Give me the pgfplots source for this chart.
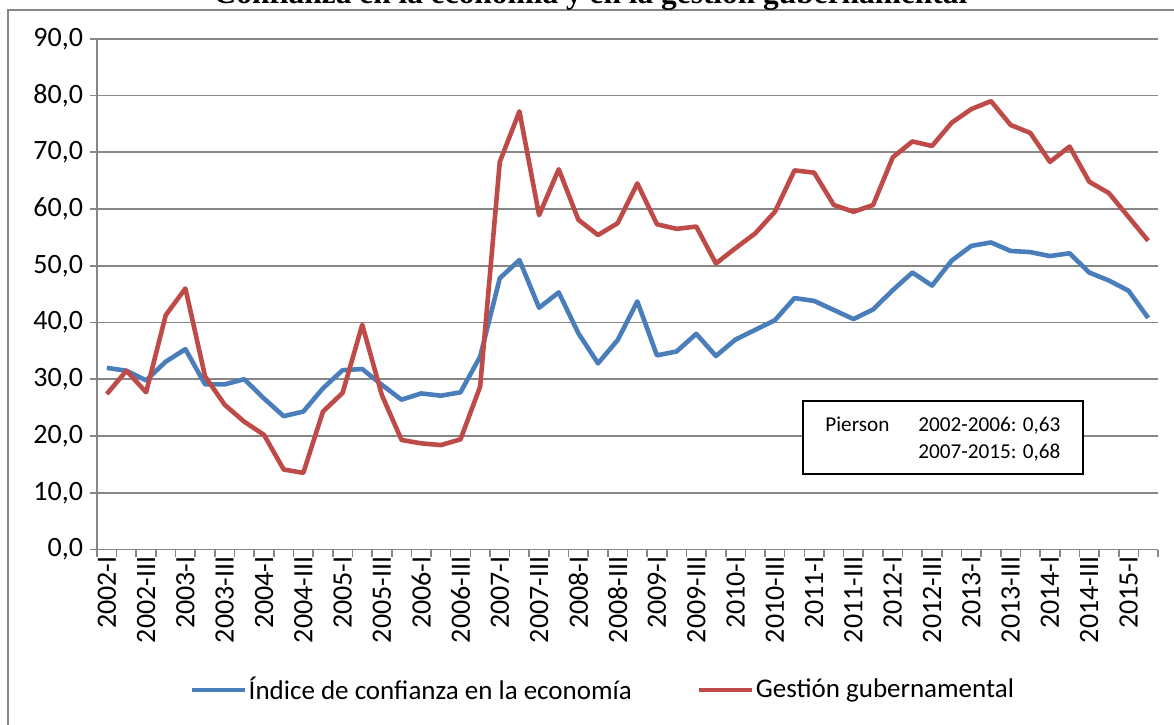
\documentclass[border=0pt]{standalone}
\usepackage{pgfplots}
\pgfplotsset{compat=1.18}
\usepackage{fontspec}
\setmainfont{Carlito}
\newfontfamily\titlefont{Liberation Serif}
\definecolor{serblue}{HTML}{4A7EBB}
\definecolor{serred}{HTML}{BE4B48}
\definecolor{gridgray}{HTML}{868686}
\begin{document}
\begin{tikzpicture}
\useasboundingbox (0pt,0pt) rectangle (587pt,362pt);
% chart frame
\draw[gridgray, line width=1pt] (4pt,-5pt) -- (4pt,357pt) -- (600pt,357pt);
% title (partly cut off, as in the reference)
\node[anchor=base, inner sep=0pt, font=\titlefont\bfseries\fontsize{15.7}{18}\selectfont] at (295.25pt,360pt)
  {Confianza en la economía y en la gestión gubernamental};
\begin{axis}[
  at={(48.5pt,87.25pt)}, anchor=south west,
  scale only axis, width=530.5pt, height=255.4pt,
  xmin=-0.5, xmax=53.5, ymin=0, ymax=90,
  axis lines*=left,
  axis line style={gridgray, line width=0.8pt},
  ymajorgrids, grid style={gridgray, line width=0.8pt},
  ytick={0,10,...,90},
  tick align=outside,
  major tick length=3.5pt,
  tick style={gridgray, line width=0.8pt},
  xtick={-0.5,0.5,...,53.5},
  xticklabels={},
  extra x ticks={0,2,...,52},
  extra x tick labels={2002-I,2002-III,2003-I,2003-III,2004-I,2004-III,2005-I,2005-III,2006-I,2006-III,2007-I,2007-III,2008-I,2008-III,2009-I,2009-III,2010-I,2010-III,2011-I,2011-III,2012-I,2012-III,2013-I,2013-III,2014-I,2014-III,2015-I},
  extra x tick style={major tick length=0pt, xmajorgrids=false},
  x tick label style={rotate=90, anchor=east},
  tick label style={font=\fontsize{14}{16}\selectfont, black},
  /pgf/number format/.cd, fixed, fixed zerofill, precision=1, use comma, assume math mode=true,
  /pgfplots/.cd,
  legend columns=2,
  legend style={at={(0.4765,-0.275)}, anchor=center, draw=none, fill=none,
    font=\fontsize{13.5}{16}\selectfont,
    /tikz/every even column/.append style={column sep=32pt},
    nodes={inner sep=0.6pt}},
  legend image code/.code={\draw[#1] (0pt,0pt) -- (26.5pt,0pt);},
]
\addplot[serblue, line width=2.3pt, line join=round] table[x=i, y=v] {
i v
0 32.0
1 31.5
2 29.8
3 33.1
4 35.3
5 29.1
6 29.1
7 30.0
8 26.6
9 23.5
10 24.3
11 28.4
12 31.6
13 31.8
14 29.0
15 26.4
16 27.5
17 27.1
18 27.7
19 34.0
20 47.8
21 51.0
22 42.6
23 45.3
24 38.1
25 32.8
26 36.9
27 43.7
28 34.2
29 34.9
30 38.0
31 34.1
32 37.0
33 38.7
34 40.4
35 44.3
36 43.8
37 42.2
38 40.6
39 42.3
40 45.7
41 48.8
42 46.5
43 50.9
44 53.5
45 54.1
46 52.6
47 52.4
48 51.7
49 52.2
50 48.8
51 47.4
52 45.6
53 40.8
};
\addlegendentry{Índice de confianza en la economía}
\addplot[serred, line width=2.3pt, line join=round] table[x=i, y=v] {
i v
0 27.4
1 31.5
2 27.7
3 41.3
4 46.0
5 30.5
6 25.5
7 22.5
8 20.2
9 14.1
10 13.5
11 24.3
12 27.6
13 39.6
14 27.2
15 19.3
16 18.7
17 18.4
18 19.4
19 28.7
20 68.3
21 77.2
22 58.9
23 67.0
24 58.1
25 55.4
26 57.5
27 64.5
28 57.3
29 56.5
30 56.9
31 50.4
32 53.1
33 55.7
34 59.5
35 66.8
36 66.4
37 60.7
38 59.5
39 60.7
40 69.1
41 71.9
42 71.1
43 75.2
44 77.6
45 79.0
46 74.8
47 73.4
48 68.3
49 71.0
50 64.8
51 62.8
52 58.6
53 54.4
};
\addlegendentry{Gestión gubernamental}
\end{axis}
% Pierson box
\draw[black, line width=0.75pt, fill=white] (401.5pt,125pt) rectangle (541.5pt,161.5pt);
\node[anchor=base west, inner sep=0pt, font=\fontsize{10.6}{13}\selectfont] at (412.5pt,146.2pt) {Pierson};
\node[anchor=base west, inner sep=0pt, font=\fontsize{10.6}{13}\selectfont] at (459pt,146.2pt) {2002-2006: 0,63};
\node[anchor=base west, inner sep=0pt, font=\fontsize{10.6}{13}\selectfont] at (459pt,132.9pt) {2007-2015: 0,68};
\end{tikzpicture}
\end{document}
